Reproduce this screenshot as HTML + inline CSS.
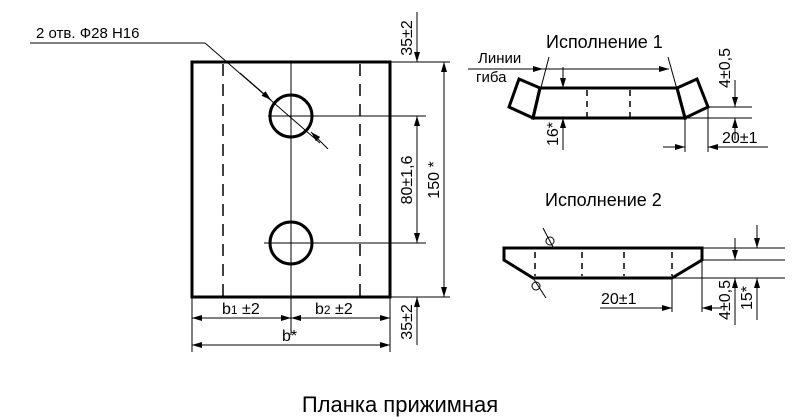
<!DOCTYPE html>
<html><head><meta charset="utf-8"><style>
html,body{margin:0;padding:0;background:#fff;}
svg{display:block;font-family:"Liberation Sans",sans-serif;}
</style></head><body>
<svg width="800" height="417" viewBox="0 0 800 417" xmlns="http://www.w3.org/2000/svg">
<defs>
<marker id="a" viewBox="0 0 10 6" refX="10" refY="3" markerWidth="10" markerHeight="6" orient="auto-start-reverse" markerUnits="userSpaceOnUse"><path d="M0,0L10,3L0,6z" fill="#000"/></marker>
</defs>
<g stroke="#000" fill="none">
<rect x="192" y="62" width="198" height="235" stroke-width="3"/>
<line x1="223" y1="64" x2="223" y2="296" stroke-width="1.5" stroke-dasharray="12,8"/>
<line x1="360" y1="64" x2="360" y2="296" stroke-width="1.5" stroke-dasharray="12,8"/>
<line x1="291" y1="62" x2="291" y2="335" stroke-width="1"/>
<circle cx="291" cy="116" r="21" stroke-width="3"/>
<circle cx="291" cy="243" r="21" stroke-width="3"/>
<line x1="268" y1="116" x2="426" y2="116" stroke-width="1"/>
<line x1="264" y1="243" x2="426" y2="243" stroke-width="1"/>
<line x1="390" y1="62" x2="450" y2="62" stroke-width="1"/>
<line x1="390" y1="297" x2="450" y2="297" stroke-width="1"/>
<line x1="192" y1="297" x2="192" y2="352" stroke-width="1"/>
<line x1="390" y1="297" x2="390" y2="352" stroke-width="1"/>
<line x1="30" y1="43" x2="205" y2="43" stroke-width="1"/>
<line x1="205" y1="43" x2="320" y2="143" stroke-width="1"/>
<line x1="240" y1="73" x2="271" y2="100" stroke-width="1" marker-end="url(#a)"/>
<line x1="328" y1="149" x2="311" y2="132" stroke-width="1" marker-end="url(#a)"/>
<line x1="417" y1="12" x2="417" y2="62" stroke-width="1" marker-end="url(#a)"/>
<line x1="417" y1="116" x2="417" y2="243" stroke-width="1" marker-start="url(#a)" marker-end="url(#a)"/>
<line x1="417" y1="345" x2="417" y2="297" stroke-width="1" marker-end="url(#a)"/>
<line x1="444" y1="62" x2="444" y2="297" stroke-width="1" marker-start="url(#a)" marker-end="url(#a)"/>
<line x1="192" y1="318" x2="291" y2="318" stroke-width="1" marker-start="url(#a)" marker-end="url(#a)"/>
<line x1="291" y1="318" x2="390" y2="318" stroke-width="1" marker-start="url(#a)" marker-end="url(#a)"/>
<line x1="192" y1="345" x2="390" y2="345" stroke-width="1" marker-start="url(#a)" marker-end="url(#a)"/>

<polygon points="540,88 677,88 685,118 533,118" stroke-width="3"/>
<polygon points="540,88 519,79 509,107 533,118" stroke-width="3"/>
<polygon points="677,88 697,79 708,107 685,118" stroke-width="3"/>
<line x1="587" y1="90" x2="587" y2="117" stroke-width="1.5" stroke-dasharray="6,5"/>
<line x1="630" y1="90" x2="630" y2="117" stroke-width="1.5" stroke-dasharray="6,5"/>
<line x1="549" y1="57" x2="533" y2="118" stroke-width="1"/>
<line x1="668" y1="57" x2="685" y2="118" stroke-width="1"/>
<line x1="468" y1="69" x2="543" y2="69" stroke-width="1" marker-end="url(#a)"/>
<line x1="543" y1="69" x2="669" y2="69" stroke-width="1" marker-end="url(#a)"/>
<line x1="563" y1="67" x2="563" y2="88" stroke-width="1" marker-end="url(#a)"/>
<line x1="563" y1="150" x2="563" y2="118" stroke-width="1" marker-end="url(#a)"/>
<line x1="708" y1="107" x2="752" y2="107" stroke-width="1"/>
<line x1="685" y1="118" x2="752" y2="118" stroke-width="1"/>
<line x1="735" y1="80" x2="735" y2="107" stroke-width="1" marker-end="url(#a)"/>
<line x1="735" y1="140" x2="735" y2="118" stroke-width="1" marker-end="url(#a)"/>
<line x1="685" y1="118" x2="685" y2="152" stroke-width="1"/>
<line x1="708" y1="107" x2="708" y2="152" stroke-width="1"/>
<line x1="663" y1="147" x2="685" y2="147" stroke-width="1" marker-end="url(#a)"/>
<line x1="768" y1="147" x2="708" y2="147" stroke-width="1" marker-end="url(#a)"/>

<polygon points="504,248 702,248 702,260 672,278 533,278 504,260" stroke-width="3"/>
<line x1="535" y1="252" x2="535" y2="276" stroke-width="1.5" stroke-dasharray="6,5"/>
<line x1="582" y1="252" x2="582" y2="276" stroke-width="1.5" stroke-dasharray="6,5"/>
<line x1="624" y1="252" x2="624" y2="276" stroke-width="1.5" stroke-dasharray="6,5"/>
<line x1="672" y1="252" x2="672" y2="276" stroke-width="1.5" stroke-dasharray="6,5"/>
<line x1="702" y1="248" x2="785" y2="248" stroke-width="1"/>
<line x1="702" y1="260" x2="785" y2="260" stroke-width="1"/>
<line x1="672" y1="278" x2="785" y2="278" stroke-width="1"/>
<line x1="735" y1="238" x2="735" y2="260" stroke-width="1" marker-end="url(#a)"/>
<line x1="735" y1="325" x2="735" y2="278" stroke-width="1" marker-end="url(#a)"/>
<line x1="757" y1="225" x2="757" y2="248" stroke-width="1" marker-end="url(#a)"/>
<line x1="757" y1="320" x2="757" y2="278" stroke-width="1" marker-end="url(#a)"/>
<line x1="672" y1="278" x2="672" y2="312" stroke-width="1"/>
<line x1="702" y1="260" x2="702" y2="312" stroke-width="1"/>
<line x1="600" y1="308" x2="672" y2="308" stroke-width="1" marker-end="url(#a)"/>
<line x1="722" y1="308" x2="702" y2="308" stroke-width="1" marker-end="url(#a)"/>
<line x1="543" y1="228" x2="553" y2="247" stroke-width="1"/>
<circle cx="550" cy="241" r="4" stroke-width="1"/>
<line x1="533" y1="278" x2="546" y2="298" stroke-width="1"/>
<circle cx="536" cy="286" r="4" stroke-width="1"/>
</g>
<g fill="#000" font-size="16">
<text x="36" y="38" font-size="15">2 отв. Ф28 Н16</text>
<text x="222" y="314">b<tspan font-size="12">1</tspan> ±2</text>
<text x="315" y="314">b<tspan font-size="12">2</tspan> ±2</text>
<text x="282" y="341">b*</text>
<text transform="translate(412,38) rotate(-90)" text-anchor="middle">35±2</text>
<text transform="translate(412,322) rotate(-90)" text-anchor="middle">35±2</text>
<text transform="translate(412,180) rotate(-90)" text-anchor="middle">80±1,6</text>
<text transform="translate(439,180) rotate(-90)" text-anchor="middle">150 *</text>
<text x="546" y="48" font-size="18">Исполнение 1</text>
<text x="478" y="63" font-size="15">Линии</text>
<text x="476" y="82" font-size="15">гиба</text>
<text transform="translate(558,134) rotate(-90)" text-anchor="middle">16*</text>
<text transform="translate(730,68) rotate(-90)" text-anchor="middle">4±0,5</text>
<text x="722" y="143">20±1</text>
<text x="545" y="206" font-size="18">Исполнение 2</text>
<text x="601" y="304">20±1</text>
<text transform="translate(730,300) rotate(-90)" text-anchor="middle">4±0,5</text>
<text transform="translate(752,298) rotate(-90)" text-anchor="middle">15*</text>
<text x="400" y="412" font-size="22" text-anchor="middle">Планка прижимная</text>
</g>
</svg>
</body></html>
